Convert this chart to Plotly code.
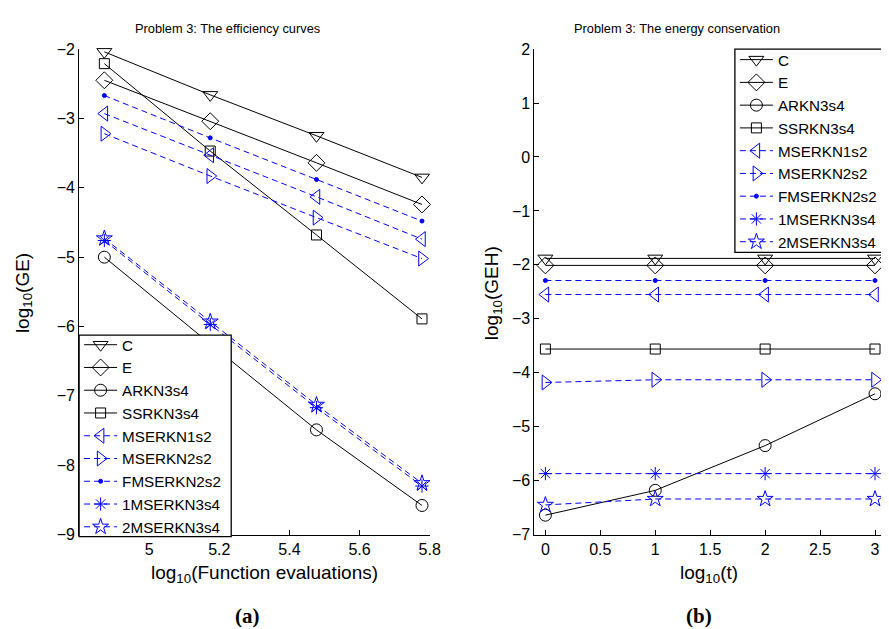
import plotly.graph_objects as go

# ---------------- data ----------------
NAMES = ["C", "E", "ARKN3s4", "SSRKN3s4", "MSERKN1s2", "MSERKN2s2",
         "FMSERKN2s2", "1MSERKN3s4", "2MSERKN3s4"]

X_A = [4.872, 5.174, 5.477, 5.778]          # log10(Function evaluations)
X_B = [0, 1, 2, 3]                          # log10(t)

GE_C = [-2.04, -2.66, -3.25, -3.85]
GE_E = [-2.45, -3.04, -3.64, -4.24]
GE_ARKN3s4 = [-5.00, -6.25, -7.49, -8.58]
GE_SSRKN3s4 = [-2.21, -3.47, -4.68, -5.89]
GE_MSERKN1s2 = [-2.93, -3.53, -4.13, -4.74]
GE_MSERKN2s2 = [-3.22, -3.83, -4.43, -5.02]
GE_FMSERKN2s2 = [-2.67, -3.28, -3.88, -4.48]
GE_1MSERKN3s4 = [-4.76, -5.97, -7.17, -8.30]
GE_2MSERKN3s4 = [-4.73, -5.93, -7.13, -8.26]

GEH_C = [-1.88, -1.88, -1.88, -1.88]
GEH_E = [-2.01, -2.01, -2.01, -2.01]
GEH_ARKN3s4 = [-6.64, -6.18, -5.35, -4.39]
GEH_SSRKN3s4 = [-3.56, -3.56, -3.56, -3.56]
GEH_MSERKN1s2 = [-2.55, -2.55, -2.55, -2.55]
GEH_MSERKN2s2 = [-4.18, -4.13, -4.13, -4.13]
GEH_FMSERKN2s2 = [-2.29, -2.29, -2.29, -2.29]
GEH_1MSERKN3s4 = [-5.87, -5.87, -5.87, -5.87]
GEH_2MSERKN3s4 = [-6.45, -6.34, -6.34, -6.34]

X_TICKS_A = [5, 5.2, 5.4, 5.6, 5.8]

GE = [GE_C, GE_E, GE_ARKN3s4, GE_SSRKN3s4, GE_MSERKN1s2, GE_MSERKN2s2,
      GE_FMSERKN2s2, GE_1MSERKN3s4, GE_2MSERKN3s4]
GEH = [GEH_C, GEH_E, GEH_ARKN3s4, GEH_SSRKN3s4, GEH_MSERKN1s2, GEH_MSERKN2s2,
       GEH_FMSERKN2s2, GEH_1MSERKN3s4, GEH_2MSERKN3s4]

# ---------------- styles ----------------
BLUE = "#0000ff"
DASH = "6px,4px"
STYLES = [
    dict(symbol="triangle-down-open", size=13, color="black", dash="solid"),
    dict(symbol="diamond-open", size=13, color="black", dash="solid"),
    dict(symbol="circle-open", size=12, color="black", dash="solid"),
    dict(symbol="square-open", size=10, color="black", dash="solid"),
    dict(symbol="triangle-left-open", size=13, color=BLUE, dash=DASH),
    dict(symbol="triangle-right-open", size=13, color=BLUE, dash=DASH),
    dict(symbol="circle", size=4, color=BLUE, dash=DASH),
    dict(symbol="asterisk-open", size=11, color=BLUE, dash=DASH),
    dict(symbol="star-open", size=12, color=BLUE, dash=DASH),
]

FONT = "Liberation Sans, Arial, sans-serif"
W, H = 889, 629

fig = go.Figure()
for name, ys, st in zip(NAMES, GE, STYLES):
    fig.add_trace(go.Scatter(
        x=X_A, y=ys, name=name, mode="lines+markers",
        line=dict(color=st["color"], width=1, dash=st["dash"]),
        marker=dict(symbol=st["symbol"], size=st["size"], color=st["color"],
                    line=dict(color=st["color"], width=1)),
        xaxis="x", yaxis="y", legend="legend", cliponaxis=False))
for name, ys, st in zip(NAMES, GEH, STYLES):
    fig.add_trace(go.Scatter(
        x=X_B, y=ys, name=name, mode="lines+markers",
        line=dict(color=st["color"], width=1, dash=st["dash"]),
        marker=dict(symbol=st["symbol"], size=st["size"], color=st["color"],
                    line=dict(color=st["color"], width=1)),
        xaxis="x2", yaxis="y2", legend="legend2", cliponaxis=False))

ydom = [1 - 533 / H, 1 - 34 / H]
axis_common = dict(showline=True, linecolor="black", linewidth=1, ticks="inside",
                   ticklen=5, tickcolor="black", showgrid=False, zeroline=False,
                   tickfont=dict(family=FONT, size=16, color="black"), mirror=False)

LEG_FONT = dict(family=FONT, size=15.2, color="black")
fig.update_layout(
    width=W, height=H, margin=dict(l=0, r=0, t=0, b=0),
    paper_bgcolor="white", plot_bgcolor="white",
    xaxis=dict(domain=[72 / W, 427 / W], range=[4.8, 5.8], tickvals=X_TICKS_A,
               anchor="y", **axis_common),
    yaxis=dict(domain=ydom, range=[-9, -2], dtick=1, anchor="x", **axis_common),
    xaxis2=dict(domain=[533 / W, 1.0], range=[-0.1, 3.1], dtick=0.5, tick0=0,
                anchor="y2", **axis_common),
    yaxis2=dict(domain=ydom, range=[-7, 2], dtick=1, anchor="x2", **axis_common),
    legend=dict(x=72 / W, y=1 - 321 / H, xanchor="left", yanchor="top",
                bgcolor="rgba(0,0,0,0)", borderwidth=0,
                font=LEG_FONT, itemwidth=33, tracegroupgap=0),
    legend2=dict(x=736 / W, y=1 - 28 / H, xanchor="left", yanchor="top",
                 bgcolor="rgba(0,0,0,0)", borderwidth=0,
                 font=LEG_FONT, itemwidth=33, tracegroupgap=0),
)

# legend frames (white boxes with black border, drawn above the data)
for (x0, y0, x1, y1) in [(72, 328, 226, 535), (736, 34, 888, 243)]:
    fig.add_shape(type="rect", xref="paper", yref="paper",
                  x0=x0 / W, x1=x1 / W, y0=1 - y1 / H, y1=1 - y0 / H,
                  line=dict(color="black", width=1.3), fillcolor="white",
                  layer="above")

ann_font = dict(family=FONT, size=12.8, color="black")
lab_font = dict(family=FONT, size=19, color="black")
sub_font = dict(family="Liberation Serif, Times New Roman, serif", size=21, color="black")
anns = [
    dict(text="Problem 3: The efficiency curves", x=222, y=13, font=ann_font),
    dict(text="Problem 3: The energy conservation", x=677, y=13, font=ann_font),
    dict(text="log<sub>10</sub>(Function evaluations)", x=260, y=574, font=lab_font),
    dict(text="log<sub>10</sub>(t)", x=710, y=574, font=lab_font),
    dict(text="log<sub>10</sub>(GE)", x=16, y=285, font=lab_font, textangle=-90),
    dict(text="log<sub>10</sub>(GEH)", x=491, y=285, font=lab_font, textangle=-90),
    dict(text="<b>(a)</b>", x=242, y=617, font=sub_font),
    dict(text="<b>(b)</b>", x=700, y=617, font=sub_font),
]
for a in anns:
    fig.add_annotation(text=a["text"], x=a["x"] / W, y=1 - a["y"] / H,
                       xref="paper", yref="paper", showarrow=False,
                       xanchor="center", yanchor="middle", font=a["font"],
                       textangle=a.get("textangle", 0))

fig.write_html("out.html")
